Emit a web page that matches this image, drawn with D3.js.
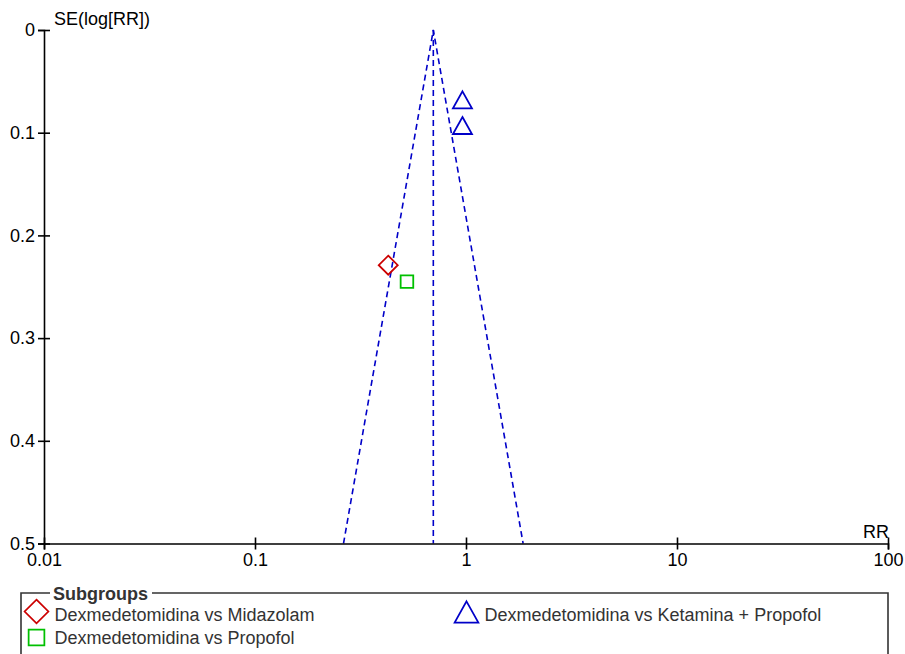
<!DOCTYPE html>
<html>
<head>
<meta charset="utf-8">
<script src="https://cdn.jsdelivr.net/npm/d3@7"></script>
<style>
  body { margin: 0; background: #fff; }
  svg { display: block; font-family: "Liberation Sans", Arial, sans-serif; }
</style>
</head>
<body>
<div id="canvas"></div>
<script>
// data
let pooledRR = 0.70
let studyGroups = ['midazolam', 'propofol', 'ketamina', 'ketamina']
let studyRR = [0.428, 0.525, 0.962, 0.962]
let studySE = [0.229, 0.245, 0.068, 0.093]

let xTicks = [0.01, 0.1, 1, 10, 100]
let yTicks = [0, 0.1, 0.2, 0.3, 0.4, 0.5]

let legendKeys = ['midazolam', 'propofol', 'ketamina']
let legendLabels = ['Dexmedetomidina vs Midazolam', 'Dexmedetomidina vs Propofol', 'Dexmedetomidina vs Ketamina + Propofol']
let legendColors = ['#cc0000', '#00c000', '#0000c8']
let legendShapes = ['diamond', 'square', 'triangle']

let width = 905, height = 654

let svg = d3.select('#canvas').append('svg')
    .attr('width', width)
    .attr('height', height)

let x = d3.scaleLog().domain([0.01, 100]).range([44, 888])
let y = d3.scaleLinear().domain([0, 0.5]).range([30, 543.5])

let color = d3.scaleOrdinal().domain(legendKeys).range(legendColors)
let shape = d3.scaleOrdinal().domain(legendKeys).range(legendShapes)

// marker paths, centred on 0,0
let markerPath = (s) => {
    if (s === 'diamond') return 'M0,-9.5L9.5,0L0,9.5L-9.5,0Z'
    if (s === 'square') return 'M-6.3,-6.3H6.3V6.3H-6.3Z'
    return 'M0,-8.5L9.5,8.5H-9.5Z'
}

// funnel (95% limits) and pooled estimate line
let z = 1.96
let seMax = 0.5
let funnel = [
    [Math.exp(Math.log(pooledRR) - z * seMax), seMax],
    [pooledRR, 0],
    [Math.exp(Math.log(pooledRR) + z * seMax), seMax]
]
let line = d3.line().x(d => x(d[0])).y(d => y(d[1]))

svg.append('path')
    .attr('d', line(funnel))
    .attr('fill', 'none')
    .attr('stroke', '#0000c8')
    .attr('stroke-width', 1.6)
    .attr('stroke-dasharray', '6,4')

svg.append('path')
    .attr('d', line([[pooledRR, 0], [pooledRR, seMax]]))
    .attr('fill', 'none')
    .attr('stroke', '#0000c8')
    .attr('stroke-width', 1.6)
    .attr('stroke-dasharray', '6,4')

// axes
let xAxis = d3.axisBottom(x).tickValues(xTicks).tickFormat(d => String(d)).tickSize(6).tickPadding(4)
let yAxis = d3.axisLeft(y).tickValues(yTicks).tickFormat(d => String(d)).tickSize(6).tickPadding(3)

let gx = svg.append('g').attr('transform', `translate(0,${y(0.5)})`).call(xAxis)
let gy = svg.append('g').attr('transform', `translate(${x(0.01)},0)`).call(yAxis)

;[gx, gy].forEach(g => {
    g.select('.domain').attr('stroke', '#000').attr('stroke-width', 1.6)
    g.selectAll('.tick line').attr('stroke', '#000').attr('stroke-width', 1.6)
    g.selectAll('.tick text').attr('fill', '#000').attr('font-size', 18)
        .attr('font-family', '"Liberation Sans", Arial, sans-serif')
})
// ticks cross the axis line
gx.selectAll('.tick line').attr('y1', -6)
gy.selectAll('.tick line').attr('x1', 6)

svg.append('text')
    .attr('x', 54).attr('y', 25)
    .attr('font-size', 18)
    .text('SE(log[RR])')

svg.append('text')
    .attr('x', 889).attr('y', 538)
    .attr('text-anchor', 'end')
    .attr('font-size', 18)
    .text('RR')

// study markers
svg.selectAll('.study')
    .data(studyRR)
    .enter()
    .append('path')
    .attr('class', 'study')
    .attr('transform', (d, i) => `translate(${x(d)},${y(studySE[i])})`)
    .attr('d', (d, i) => markerPath(shape(studyGroups[i])))
    .attr('fill', 'none')
    .attr('stroke', (d, i) => color(studyGroups[i]))
    .attr('stroke-width', 1.8)

// legend box with title gap
let lg = svg.append('g')
lg.append('path')
    .attr('d', 'M50,593H21V660 M152,593H888V660')
    .attr('fill', 'none')
    .attr('stroke', '#333')
    .attr('stroke-width', 1.6)

lg.append('text')
    .attr('x', 53).attr('y', 599.5)
    .attr('font-size', 18)
    .attr('font-weight', 'bold')
    .attr('fill', '#333')
    .text('Subgroups')

let legendPos = [[36.5, 611.5], [36.5, 637.5], [466.5, 612]]
let legendBase = [621, 644, 621]

let items = lg.selectAll('.item')
    .data(legendKeys)
    .enter()
    .append('g')
    .attr('class', 'item')

items.append('path')
    .attr('d', d => markerPath(shape(d)))
    .attr('transform', (d, i) => `translate(${legendPos[i][0]},${legendPos[i][1]}) scale(1.25)`)
    .attr('fill', 'none')
    .attr('stroke', d => color(d))
    .attr('stroke-width', 1.4)

items.append('text')
    .attr('x', (d, i) => legendPos[i][0] + 18)
    .attr('y', (d, i) => legendBase[i])
    .attr('font-size', 18)
    .attr('fill', '#333')
    .text((d, i) => legendLabels[i])
</script>
</body>
</html>
